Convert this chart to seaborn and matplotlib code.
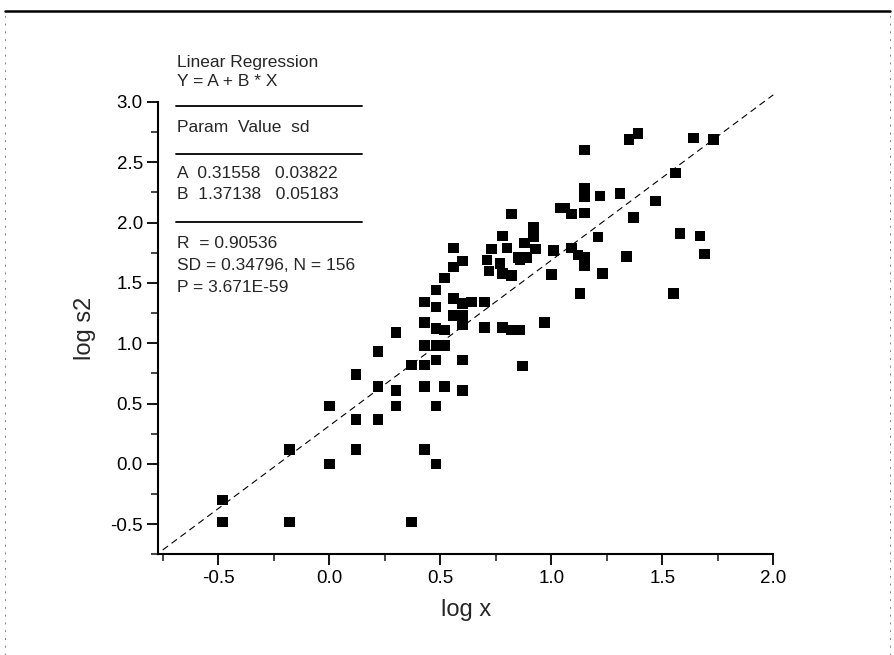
import numpy as np
import pandas as pd
import seaborn as sns
import matplotlib.pyplot as plt
from matplotlib.lines import Line2D
from matplotlib.ticker import MultipleLocator

# data
log_x = [-0.48, -0.48, -0.18, -0.18, 0.00, 0.00,
         0.12, 0.12, 0.12, 0.22, 0.22, 0.22,
         0.30, 0.30, 0.30, 0.37, 0.37,
         0.43, 0.43, 0.43, 0.43, 0.43, 0.43,
         0.48, 0.48, 0.48, 0.48, 0.48, 0.48, 0.48,
         0.52, 0.52, 0.52, 0.52,
         0.56, 0.56, 0.56, 0.56,
         0.60, 0.60, 0.60, 0.60, 0.60, 0.60,
         0.64, 0.70, 0.70, 0.78, 0.82, 0.86, 0.87, 0.97,
         0.72, 0.77, 0.78, 0.82, 0.71, 0.86, 1.00,
         0.82, 0.92, 0.92, 0.78, 0.73, 0.80, 0.85, 0.89, 0.88, 0.93,
         1.01, 1.04, 1.15, 1.35, 1.39, 1.64, 1.73, 1.56,
         1.15, 1.15, 1.22, 1.31, 1.06, 1.09, 1.15, 1.47, 1.37,
         1.21, 1.58, 1.67, 1.69, 1.34, 1.09, 1.12, 1.15, 1.15, 1.23,
         1.13, 1.55]
log_s2 = [-0.30, -0.48, -0.48, 0.12, 0.48, 0.00,
          0.74, 0.37, 0.12, 0.93, 0.64, 0.37,
          1.09, 0.61, 0.48, 0.82, -0.48,
          0.82, 0.98, 0.64, 0.12, 1.17, 1.34,
          0.98, 0.86, 0.48, 0.00, 1.12, 1.30, 1.44,
          0.98, 0.64, 1.11, 1.54,
          1.63, 1.37, 1.23, 1.79,
          0.86, 0.61, 1.15, 1.68, 1.23, 1.33,
          1.34, 1.34, 1.13, 1.13, 1.11, 1.11, 0.81, 1.17,
          1.60, 1.66, 1.58, 1.56, 1.69, 1.69, 1.57,
          2.07, 1.96, 1.88, 1.89, 1.78, 1.79, 1.71, 1.71, 1.83, 1.78,
          1.77, 2.12, 2.60, 2.69, 2.74, 2.70, 2.69, 2.41,
          2.28, 2.21, 2.22, 2.24, 2.12, 2.07, 2.08, 2.18, 2.04,
          1.88, 1.91, 1.89, 1.74, 1.72, 1.79, 1.73, 1.71, 1.64, 1.58,
          1.41, 1.41]

# fit results printed on the figure
fit_a = 0.31558
fit_b = 1.37138
fit_lines = ["Linear Regression", "Y = A + B * X", "Param  Value  sd",
             "A  0.31558   0.03822", "B  1.37138   0.05183",
             "R  = 0.90536", "SD = 0.34796, N = 156", "P = 3.671E-59"]

x_lim = (-0.77, 2.0)
y_lim = (-0.75, 3.0)

sns.set_theme(style="ticks")
plt.rcParams['font.family'] = ['Liberation Sans', 'DejaVu Sans']

df = pd.DataFrame({"log x": log_x, "log s2": log_s2})
line_x = np.array([-0.75, 2.0])
line_df = pd.DataFrame({"x": line_x, "y": fit_a + fit_b * line_x})

fig = plt.figure(figsize=(8.94, 6.55), dpi=100)
ax = fig.add_axes([0.177, 0.1535, 0.688, 0.691])

sns.lineplot(data=line_df, x="x", y="y", ax=ax, color="black",
             linewidth=0.8, dashes=False, linestyle=(0, (6, 4)))
ax.lines[0].set_clip_on(False)
sns.scatterplot(data=df, x="log x", y="log s2", ax=ax, marker="s",
                s=58, color="black", edgecolor="none", linewidth=0)

ax.set_xlim(*x_lim)
ax.set_ylim(*y_lim)
ax.xaxis.set_major_locator(MultipleLocator(0.5))
ax.xaxis.set_minor_locator(MultipleLocator(0.25))
ax.yaxis.set_major_locator(MultipleLocator(0.5))
ax.yaxis.set_minor_locator(MultipleLocator(0.25))
ax.tick_params(which="major", length=8, width=1.3, labelsize=13.5, pad=3,
               colors="black")
ax.tick_params(which="minor", length=5, width=1.2)
ax.set_xticklabels([f"{v:.1f}" for v in ax.get_xticks()])
ax.set_yticklabels([f"{v:.1f}" for v in ax.get_yticks()])
for side in ["left", "bottom"]:
    ax.spines[side].set_linewidth(1.5)
    ax.spines[side].set_color("black")
sns.despine(ax=ax)

ax.set_xlabel("log x", fontsize=17, labelpad=9)
ax.set_ylabel("log s2", fontsize=17, labelpad=10)

# regression summary block
text_y = [62, 81, 127, 173, 195, 244, 266, 288]
for s, py in zip(fit_lines, text_y):
    fig.text(177 / 894, 1 - py / 655, s, fontsize=12.5, va="center",
             ha="left")
for py in [106, 154, 222]:
    fig.add_artist(Line2D([176 / 894, 362 / 894], [1 - py / 655] * 2,
                          color="black", linewidth=1.3))

# scanned page frame
fig.add_artist(Line2D([5 / 894, 890 / 894], [1 - 11 / 655] * 2,
                      color="black", linewidth=1.8))
for px in [5, 890]:
    fig.add_artist(Line2D([px / 894] * 2, [0, 1 - 11 / 655], color="0.5",
                          linewidth=0.7, linestyle=(0, (2, 6))))

plt.savefig("out.png", dpi=100)
